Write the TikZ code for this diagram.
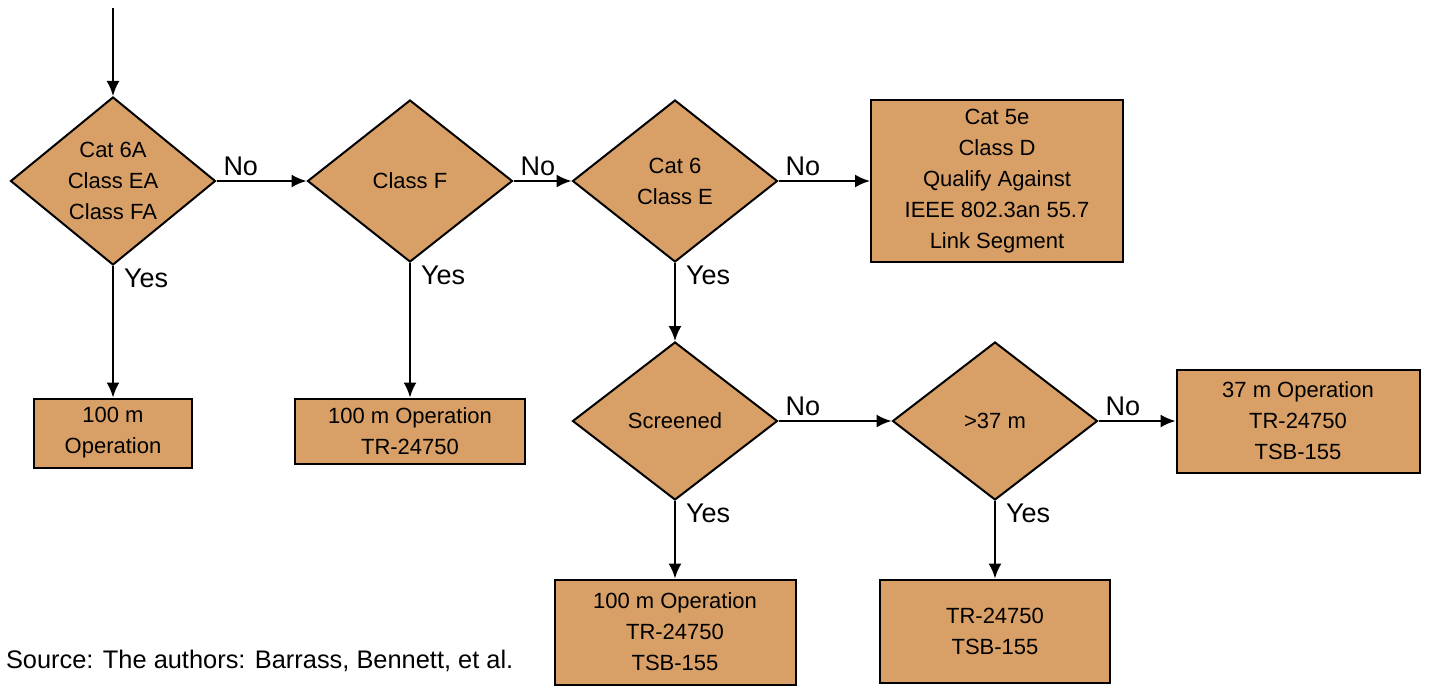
\documentclass[tikz,border=0pt]{standalone}
\usepackage{fontspec}
\setmainfont{Liberation Sans}
\usepackage{xcolor}
\usetikzlibrary{shapes.geometric,arrows.meta}
\definecolor{cabletan}{RGB}{216,160,102}

\begin{document}
\begin{tikzpicture}[x=0.5pt, y=-0.5pt, line width=1pt]
\useasboundingbox (0,0) rectangle (1429,686);
\tikzstyle{every node}=[font=\fontsize{11}{15.5}\selectfont, align=center]
\tikzstyle{test}=[diamond, draw, fill=cabletan, inner sep=0pt,
                  minimum width=102.5pt, minimum height=81pt]
\tikzstyle{result}=[rectangle, draw, fill=cabletan, inner sep=0pt]
\tikzstyle{lbl}=[inner sep=1pt, font=\fontsize{13.5}{15}\selectfont]
% decisions
\node[test] (cat6a) at (113,181) {Cat 6A\\Class EA\\Class FA};
\node[test] (classf) at (410,181) {Class F};
\node[test] (cat6) at (675,181) {Cat 6\\Class E};
\node[test, minimum height=79pt] (screen) at (675,421) {Screened};
\node[test, minimum height=79pt] (len) at (995,421) {>37 m};
% outcomes
\node[result, minimum width=79pt, minimum height=34.5pt] (op1) at (113,433) {100 m\\Operation};
\node[result, minimum width=115pt, minimum height=32.5pt] (op2) at (410,431) {100 m Operation\\TR-24750};
\node[result, minimum width=126pt, minimum height=81pt] (cat5e) at (997,181)
  {Cat 5e\\Class D\\Qualify Against\\IEEE 802.3an 55.7\\Link Segment};
\node[result, minimum width=121.5pt, minimum height=51.5pt] (op37) at (1298,421) {37 m Operation\\TR-24750\\TSB-155};
\node[result, minimum width=120.5pt, minimum height=52.5pt] (op3) at (675,632) {100 m Operation\\TR-24750\\TSB-155};
\node[result, minimum width=115pt, minimum height=51.5pt] (op4) at (995,631) {TR-24750\\TSB-155};
\coordinate (start) at (113,8);
\foreach \i/\j in {start/cat6a, cat6a/classf, classf/cat6, cat6/cat5e, cat6a/op1, classf/op2,
                   cat6/screen, screen/len, len/op37, screen/op3, len/op4}{\draw[-{Latex[length=7.5pt,width=6.5pt]}] (\i) -- (\j);}
% branch labels
\foreach \n in {cat6a, classf, cat6, screen, len}{
  \node[lbl, anchor=south west] (no-\n) at ([xshift=2pt, yshift=1pt]\n.east) {No};
  \node[lbl, anchor=north west] (yes-\n) at ([xshift=4pt, yshift=0pt]\n.south) {Yes};
}
\node[anchor=west, inner sep=0pt, font=\fontsize{12.7}{15}\selectfont] (src) at (5,661) {Source: The authors: Barrass, Bennett, et al.};
\end{tikzpicture}
\end{document}
